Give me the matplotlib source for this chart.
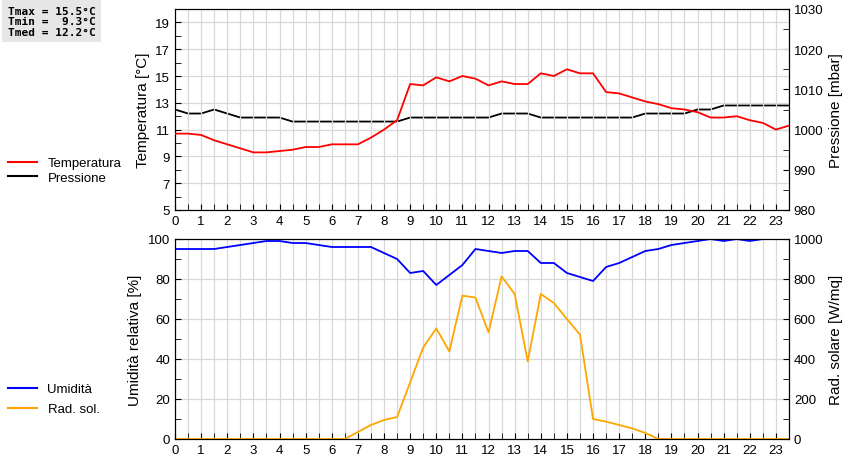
import matplotlib
matplotlib.use("Agg")
import matplotlib.pyplot as plt
from matplotlib.lines import Line2D
import numpy as np

hours = [i * 0.5 for i in range(48)]
temperatura = [10.7, 10.7, 10.6, 10.2, 9.9, 9.6, 9.3, 9.3, 9.4, 9.5, 9.7, 9.7,
               9.9, 9.9, 9.9, 10.4, 11.0, 11.7, 14.4, 14.3, 14.9, 14.6, 15.0, 14.8,
               14.3, 14.6, 14.4, 14.4, 15.2, 15.0, 15.5, 15.2, 15.2, 13.8, 13.7, 13.4,
               13.1, 12.9, 12.6, 12.5, 12.3, 11.9, 11.9, 12.0, 11.7, 11.5, 11.0, 11.3]
pressione = [1005, 1004, 1004, 1005, 1004, 1003, 1003, 1003, 1003, 1002, 1002, 1002,
             1002, 1002, 1002, 1002, 1002, 1002, 1003, 1003, 1003, 1003, 1003, 1003,
             1003, 1004, 1004, 1004, 1003, 1003, 1003, 1003, 1003, 1003, 1003, 1003,
             1004, 1004, 1004, 1004, 1005, 1005, 1006, 1006, 1006, 1006, 1006, 1006]
umidita = [95, 95, 95, 95, 96, 97, 98, 99, 99, 98, 98, 97,
           96, 96, 96, 96, 93, 90, 83, 84, 77, 82, 87, 95,
           94, 93, 94, 94, 88, 88, 83, 81, 79, 86, 88, 91,
           94, 95, 97, 98, 99, 100, 99, 100, 99, 100, 100, 100]
rad_sol = [0, 0, 0, 0, 0, 0, 0, 0, 0, 0, 0, 0,
           0, 0, 35, 70, 95, 110, 283, 458, 553, 438, 717, 707,
           533, 813, 725, 388, 725, 680, 600, 522, 100, 87, 70, 53,
           30, 0, 0, 0, 0, 0, 0, 0, 0, 0, 0, 0]
stats = ["Tmax = 15.5\u00b0C", "Tmin =  9.3\u00b0C", "Tmed = 12.2\u00b0C"]

plt.rcParams["font.family"] = "Liberation Sans"
plt.rcParams["font.size"] = 9.5
W, H = 860, 460
fig = plt.figure(figsize=(W / 100, H / 100), dpi=100)

def rect(l, t, r, b):
    return [l / W, 1 - b / H, (r - l) / W, (b - t) / H]

def style(ax, ax2):
    ax.set_xlim(0, 23.5)
    ax.set_xticks(range(24))
    ax.set_xticks(np.arange(0, 23.51, 0.5), minor=True)
    ax.grid(True, which="minor", axis="x", color="#d8d8d8", lw=0.9)
    ax.grid(True, which="major", axis="both", color="#d8d8d8", lw=0.9)
    ax.set_axisbelow(True)
    for a in (ax, ax2):
        a.tick_params(which="both", direction="in", length=4, labelsize=9.5)
        a.tick_params(which="minor", length=4)

ax1 = fig.add_axes(rect(175, 10, 789, 211))
ax1b = ax1.twinx()
ax1.plot(hours, temperatura, color="#ff0000", lw=1.3, zorder=3)
ax1b.plot(hours, pressione, color="#000000", lw=1.3)
ax1.set_ylim(5, 20)
ax1.set_yticks(range(5, 20, 2))
ax1.set_yticks(range(5, 21), minor=True)
ax1b.set_ylim(980, 1030)
ax1b.set_yticks(range(980, 1031, 10))
ax1b.set_yticks(range(980, 1031, 5), minor=True)
ax1.set_ylabel("Temperatura [\u00b0C]", fontsize=11)
ax1b.set_ylabel("Pressione [mbar]", fontsize=11)
style(ax1, ax1b)
ax1.set_zorder(ax1b.get_zorder() + 1)
ax1.patch.set_visible(False)

ax2 = fig.add_axes(rect(175, 240, 789, 440))
ax2b = ax2.twinx()
ax2.plot(hours, umidita, color="#0000ff", lw=1.3, zorder=3)
ax2b.plot(hours, rad_sol, color="#ffa500", lw=1.3)
ax2.set_ylim(0, 100)
ax2.set_yticks(range(0, 101, 20))
ax2.set_yticks(range(0, 101, 10), minor=True)
ax2b.set_ylim(0, 1000)
ax2b.set_yticks(range(0, 1001, 200))
ax2b.set_yticks(range(0, 1001, 100), minor=True)
ax2.set_ylabel("Umidit\u00e0 relativa [%]", fontsize=11)
ax2b.set_ylabel("Rad. solare [W/mq]", fontsize=11)
style(ax2, ax2b)

fig.legend(handles=[Line2D([], [], color="#ff0000", lw=1.5), Line2D([], [], color="#000000", lw=1.5)],
           labels=["Temperatura", "Pressione"], loc="upper left",
           bbox_to_anchor=(0, 1 - 150 / H), frameon=False, handlelength=2.2,
           labelspacing=0.2, fontsize=9.5, borderaxespad=0.2)
fig.legend(handles=[Line2D([], [], color="#0000ff", lw=1.5), Line2D([], [], color="#ffa500", lw=1.5)],
           labels=["Umidit\u00e0", "Rad. sol."], loc="upper left",
           bbox_to_anchor=(0, 1 - 376 / H), frameon=False, handlelength=2.2,
           labelspacing=0.6, fontsize=9.5, borderaxespad=0.2)

fig.text(8 / W, 1 - 7 / H, "\n".join(stats), family="DejaVu Sans Mono", fontsize=8,
         fontweight="bold", va="top", ha="left", linespacing=1.05,
         bbox=dict(facecolor="#e6e6e6", edgecolor="none", pad=4))

fig.savefig("out.png", dpi=100)
